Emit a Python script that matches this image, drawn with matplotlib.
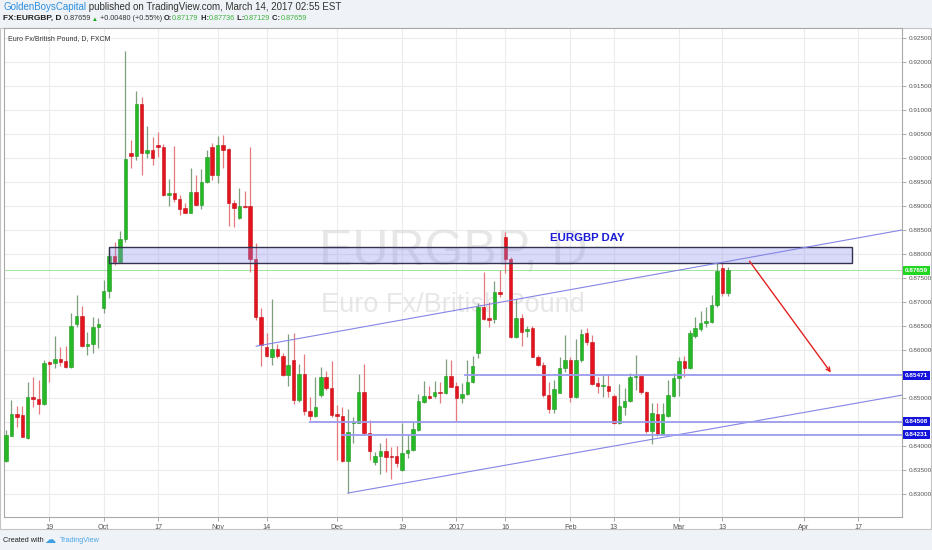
import numpy as np
import matplotlib.pyplot as plt
import matplotlib.patches as patches

plt.rcParams['font.family'] = ['Liberation Sans', 'DejaVu Sans']

# EURGBP daily candles, one per trading day (7 Sep 2016 .. 14 Mar 2017)
opens = [
    0.8369, 0.8421, 0.8467, 0.8465, 0.8417, 0.8502, 0.8498, 0.8488, 0.8575, 0.8573,
    0.8581, 0.8577, 0.8565, 0.8654, 0.8671, 0.8608, 0.8613, 0.8648, 0.8687, 0.8723,
    0.8796, 0.8783, 0.8831, 0.9010, 0.9004, 0.9113, 0.9010, 0.9017, 0.9027, 0.9023,
    0.8923, 0.8927, 0.8915, 0.8896, 0.8885, 0.8929, 0.8902, 0.8950, 0.9023, 0.8965,
    0.9027, 0.9019, 0.8906, 0.8875, 0.8900, 0.8900, 0.8790, 0.8669, 0.8606, 0.8585,
    0.8602, 0.8588, 0.8548, 0.8579, 0.8496, 0.8550, 0.8473, 0.8463, 0.8506, 0.8544,
    0.8521, 0.8467, 0.8463, 0.8369, 0.8448, 0.8448, 0.8513, 0.8427, 0.8367, 0.8379,
    0.8390, 0.8379, 0.8379, 0.8350, 0.8385, 0.8392, 0.8433, 0.8492, 0.8504, 0.8504,
    0.8513, 0.8510, 0.8546, 0.8525, 0.8500, 0.8508, 0.8533, 0.8594, 0.8690, 0.8667,
    0.8665, 0.8721, 0.8835, 0.8790, 0.8627, 0.8667, 0.8640, 0.8646, 0.8585, 0.8569,
    0.8506, 0.8477, 0.8510, 0.8563, 0.8579, 0.8502, 0.8579, 0.8635, 0.8617, 0.8531,
    0.8525, 0.8525, 0.8504, 0.8448, 0.8481, 0.8494, 0.8544, 0.8546, 0.8513, 0.8431,
    0.8467, 0.8425, 0.8463, 0.8504, 0.8542, 0.8577, 0.8563, 0.8629, 0.8644, 0.8656,
    0.8658, 0.8694, 0.8771, 0.87179]
highs = [
    0.8433, 0.8496, 0.8483, 0.8483, 0.8533, 0.8544, 0.8538, 0.8579, 0.8577, 0.8629,
    0.8606, 0.8608, 0.8677, 0.8715, 0.8692, 0.8638, 0.8669, 0.8667, 0.8746, 0.8815,
    0.8825, 0.8848, 0.9223, 0.9038, 0.9140, 0.9127, 0.9067, 0.9044, 0.9054, 0.9029,
    0.8956, 0.9025, 0.8923, 0.8906, 0.8979, 0.8965, 0.8977, 0.9017, 0.9031, 0.9046,
    0.9048, 0.9021, 0.8913, 0.8938, 0.8931, 0.9023, 0.8823, 0.8688, 0.8635, 0.8706,
    0.8613, 0.8594, 0.8633, 0.8635, 0.8571, 0.8592, 0.8502, 0.8544, 0.8565, 0.8556,
    0.8577, 0.8485, 0.8481, 0.8477, 0.8460, 0.8550, 0.8571, 0.8454, 0.8388, 0.8406,
    0.8417, 0.8398, 0.8400, 0.8448, 0.8423, 0.8450, 0.8508, 0.8535, 0.8525, 0.8535,
    0.8533, 0.8581, 0.8579, 0.8533, 0.8531, 0.8579, 0.8588, 0.8698, 0.8763, 0.8700,
    0.8744, 0.8767, 0.8846, 0.8794, 0.8706, 0.8675, 0.8650, 0.8650, 0.8590, 0.8575,
    0.8533, 0.8538, 0.8585, 0.8631, 0.8585, 0.8623, 0.8644, 0.8646, 0.8631, 0.8544,
    0.8548, 0.8548, 0.8508, 0.8529, 0.8521, 0.8552, 0.8590, 0.8548, 0.8515, 0.8490,
    0.8490, 0.8490, 0.8538, 0.8552, 0.8585, 0.8588, 0.8642, 0.8669, 0.8681, 0.8690,
    0.8715, 0.8781, 0.8783, 0.87736]
lows = [
    0.8367, 0.8421, 0.8440, 0.8419, 0.8415, 0.8481, 0.8467, 0.8485, 0.8533, 0.8563,
    0.8567, 0.8563, 0.8563, 0.8648, 0.8606, 0.8590, 0.8594, 0.8604, 0.8677, 0.8708,
    0.8777, 0.8783, 0.8825, 0.8979, 0.8996, 0.8965, 0.9000, 0.8985, 0.9002, 0.8921,
    0.8900, 0.8908, 0.8881, 0.8885, 0.8885, 0.8900, 0.8894, 0.8948, 0.8954, 0.8948,
    0.8979, 0.8858, 0.8856, 0.8873, 0.8896, 0.8763, 0.8663, 0.8567, 0.8585, 0.8569,
    0.8583, 0.8546, 0.8525, 0.8488, 0.8492, 0.8465, 0.8454, 0.8460, 0.8502, 0.8517,
    0.8460, 0.8371, 0.8367, 0.8302, 0.8406, 0.8448, 0.8423, 0.8371, 0.8360, 0.8342,
    0.8346, 0.8331, 0.8356, 0.8348, 0.8375, 0.8390, 0.8431, 0.8490, 0.8498, 0.8500,
    0.8490, 0.8508, 0.8523, 0.8450, 0.8490, 0.8506, 0.8531, 0.8583, 0.8663, 0.8648,
    0.8656, 0.8710, 0.8760, 0.8625, 0.8625, 0.8608, 0.8627, 0.8585, 0.8567, 0.8502,
    0.8469, 0.8469, 0.8510, 0.8554, 0.8492, 0.8500, 0.8575, 0.8610, 0.8527, 0.8510,
    0.8502, 0.8502, 0.8446, 0.8446, 0.8465, 0.8492, 0.8517, 0.8508, 0.8427, 0.8404,
    0.8421, 0.8423, 0.8460, 0.8502, 0.8504, 0.8544, 0.8560, 0.8625, 0.8640, 0.8648,
    0.8656, 0.8690, 0.8713, 0.87129]
closes = [
    0.8423, 0.8467, 0.8460, 0.8419, 0.8502, 0.8498, 0.8488, 0.8573, 0.8571, 0.8581,
    0.8575, 0.8565, 0.8650, 0.8671, 0.8608, 0.8613, 0.8648, 0.8654, 0.8723, 0.8796,
    0.8783, 0.8831, 0.8998, 0.9004, 0.9113, 0.9010, 0.9017, 0.9000, 0.9023, 0.8923,
    0.8927, 0.8915, 0.8894, 0.8885, 0.8929, 0.8902, 0.8950, 0.9002, 0.8965, 0.9027,
    0.9017, 0.8906, 0.8896, 0.8900, 0.8898, 0.8790, 0.8669, 0.8610, 0.8588, 0.8602,
    0.8588, 0.8548, 0.8569, 0.8496, 0.8550, 0.8473, 0.8463, 0.8481, 0.8544, 0.8521,
    0.8465, 0.8463, 0.8369, 0.8429, 0.8450, 0.8513, 0.8427, 0.8390, 0.8379, 0.8390,
    0.8377, 0.8377, 0.8365, 0.8385, 0.8392, 0.8435, 0.8494, 0.8504, 0.8500, 0.8513,
    0.8510, 0.8546, 0.8523, 0.8500, 0.8508, 0.8533, 0.8567, 0.8690, 0.8665, 0.8663,
    0.8721, 0.8717, 0.8790, 0.8627, 0.8667, 0.8638, 0.8644, 0.8585, 0.8569, 0.8506,
    0.8477, 0.8519, 0.8563, 0.8579, 0.8502, 0.8579, 0.8633, 0.8617, 0.8529, 0.8525,
    0.8527, 0.8515, 0.8448, 0.8483, 0.8494, 0.8544, 0.8546, 0.8513, 0.8431, 0.8469,
    0.8425, 0.8467, 0.8506, 0.8542, 0.8577, 0.8563, 0.8635, 0.8646, 0.8656, 0.8660,
    0.8694, 0.8765, 0.8718, 0.87659]

# time axis (bar index of first bar of each labelled day)
tick_idx = [8, 18, 28, 39, 48, 61, 73, 83, 92, 104, 112, 124, 132, 147, 157]
tick_labels = ['19', 'Oct', '17', 'Nov', '14', 'Dec', '19', '2017', '16',
               'Feb', '13', 'Mar', '13', 'Apr', '17']
price_ticks = [0.830, 0.835, 0.840, 0.845, 0.850, 0.855, 0.860, 0.865, 0.870,
               0.875, 0.880, 0.885, 0.890, 0.895, 0.900, 0.905, 0.910, 0.915,
               0.920, 0.925]

# hand drawings on the chart
zone_x = [19.0, 155.9]
zone_y = [0.87807, 0.88152]
upper_x, upper_y = [46.1, 165.1], [0.8608, 0.8850]
lower_x, lower_y = [63.0, 165.1], [0.8302, 0.8506]
levels = [0.85471, 0.84508, 0.84231]
level_start = [84.5, 56.0, 62.0]
last_price = 0.87659
arrow_start = (137.0, 0.8785)
arrow_end = (152.0, 0.8553)

GREEN, RED = '#27b827', '#e3141d'

fig = plt.figure(figsize=(9.32, 5.5), dpi=100, facecolor='#eff2f6')
W, H = 932.0, 550.0

# white chart panel (plot + price/time scales)
panel = patches.Rectangle((0, 1 - 529 / H), 931 / W, (529 - 28) / H,
                          transform=fig.transFigure, facecolor='white',
                          edgecolor='#c4c4c4', lw=0.8, zorder=-5)
fig.patches.append(panel)

ax = fig.add_axes([4 / W, 1 - 517 / H, (902 - 4) / W, (517 - 28) / H])
ax.set_zorder(2)
ax.set_facecolor('white')
ax.set_xlim(-0.37, 165.1)
ax.set_ylim(0.82521, 0.92708)

for s in ax.spines.values():
    s.set_color('#a9a9a9')
    s.set_linewidth(0.8)

ax.set_xticks(tick_idx)
ax.set_xticklabels(tick_labels)
# scale labels hidden where a level tag sits on top of them (as TradingView does)
ylabels = ['' if any(abs(p - lv) < 0.0006 for lv in levels) else '%.5f' % p
           for p in price_ticks]
ax.set_yticks(price_ticks)
ax.set_yticklabels(ylabels)
ax.yaxis.tick_right()
ax.tick_params(axis='both', length=3, width=0.6, color='#9a9a9a',
               labelcolor='#555555', pad=2)
ax.tick_params(axis='y', labelsize=4.6)
ax.tick_params(axis='x', labelsize=5.2)
ax.grid(True, color='#ececec', lw=0.8, zorder=0)
ax.set_axisbelow(True)

# watermark
ax.text(0.50, 0.54, 'EURGBP, D', transform=ax.transAxes, ha='center', va='center',
        fontsize=36, color='#d8d8d8', alpha=0.6, zorder=1)
ax.text(0.50, 0.433, 'Euro Fx/British Pound', transform=ax.transAxes, ha='center',
        va='center', fontsize=19.5, color='#d8d8d8', alpha=0.6, zorder=1)

# last price line
ax.axhline(last_price, color='#8fe08f', lw=0.6, zorder=2)

# candles
o, h, l, c = (np.array(v) for v in (opens, highs, lows, closes))
x = np.arange(len(o))
up = c >= o
body_lo = np.minimum(o, c)
body_h = np.maximum(np.abs(c - o), 0.00012)
ax.vlines(x[up], l[up], h[up], color='#7d9f7d', lw=0.9, zorder=3)
ax.vlines(x[~up], l[~up], h[~up], color='#e6787e', lw=0.9, zorder=3)
ax.bar(x[up], body_h[up], bottom=body_lo[up], width=0.64, color=GREEN,
       edgecolor='#1f9a1f', lw=0.4, zorder=4)
ax.bar(x[~up], body_h[~up], bottom=body_lo[~up], width=0.64, color=RED,
       edgecolor='#c01018', lw=0.4, zorder=4)

# resistance zone
ax.add_patch(patches.Rectangle((zone_x[0], zone_y[0]), zone_x[1] - zone_x[0],
                               zone_y[1] - zone_y[0], facecolor=(0.55, 0.55, 0.94, 0.33),
                               edgecolor='#33334f', lw=1.0, zorder=5))
ax.text(107.1, 0.88334, 'EURGBP DAY', color='#1b1bd6', fontsize=8.2,
        fontweight='bold', ha='center', va='center', zorder=6)

# channel and levels
ax.plot(upper_x, upper_y, color='#8585e6', lw=0.8, zorder=5)
ax.plot(lower_x, lower_y, color='#8585e6', lw=0.8, zorder=5)
for lv, x0 in zip(levels, level_start):
    ax.plot([x0, 165.1], [lv, lv], color='#9c9cee', lw=1.3, zorder=5)

ax.annotate('', xy=arrow_end, xytext=arrow_start,
            arrowprops=dict(arrowstyle='->', color='#e32222', lw=1.0,
                            mutation_scale=7, shrinkA=0, shrinkB=0), zorder=6)


def price_tag(y, txt, fc):
    ax.annotate(txt, xy=(1, y), xycoords=('axes fraction', 'data'),
                xytext=(2.2, 0), textcoords='offset points', ha='left', va='center',
                fontsize=4.6, fontweight='bold', color='white', annotation_clip=False,
                bbox=dict(boxstyle='square,pad=0.3', fc=fc, ec=fc, lw=0), zorder=7)


price_tag(last_price, '0.87659', '#22d622')
for lv in levels:
    price_tag(lv, '%.5f' % lv, '#1414dc')

# chart caption inside the pane
ax.text(4 / 898, 1 - 12 / 489, 'Euro Fx/British Pound, D, FXCM', fontsize=5,
        color='#333333', transform=ax.transAxes, va='baseline', zorder=8)


def text_run(x0, y0, parts):
    s, col, w, size = parts[0]
    t = fig.text(x0, y0, s, color=col, fontweight=w, fontsize=size, va='baseline')
    for s, col, w, size in parts[1:]:
        t = ax.annotate(s, xy=(1, 0), xycoords=t, ha='left', va='bottom', color=col,
                        fontweight=w, fontsize=size, annotation_clip=False)


text_run(3 / W, 1 - 10 / H, [('GoldenBoysCapital', '#2f8fe0', 'normal', 7),
                             (' published on TradingView.com, March 14, 2017 02:55 EST',
                              '#333333', 'normal', 7)])
G2, K2 = '#3cb43c', '#222222'
text_run(3 / W, 1 - 20 / H, [('FX:EURGBP, D', K2, 'bold', 6.0),
                             (' 0.87659', '#333333', 'normal', 5.2),
                             (' \u25b2', '#22aa22', 'normal', 4.6),
                             (' +0.00480 (+0.55%) ', '#333333', 'normal', 5.2),
                             ('O:', K2, 'bold', 5.4), ('0.87179', G2, 'normal', 5.2),
                             (' H:', K2, 'bold', 5.4), ('0.87736', G2, 'normal', 5.2),
                             (' L:', K2, 'bold', 5.4), ('0.87129', G2, 'normal', 5.2),
                             (' C:', K2, 'bold', 5.4), ('0.87659', G2, 'normal', 5.2)])

# footer
fig.text(3 / W, 1 - 542 / H, 'Created with', fontsize=5.2, color='#222222')
fig.text(44 / W, 1 - 543 / H, '\u2601', fontsize=8, color='#3d9fe2',
         family=['DejaVu Sans'])
fig.text(60 / W, 1 - 542 / H, 'TradingView', fontsize=5.2, color='#4aa8e8')

fig.savefig('out.png', dpi=100, facecolor=fig.get_facecolor())
